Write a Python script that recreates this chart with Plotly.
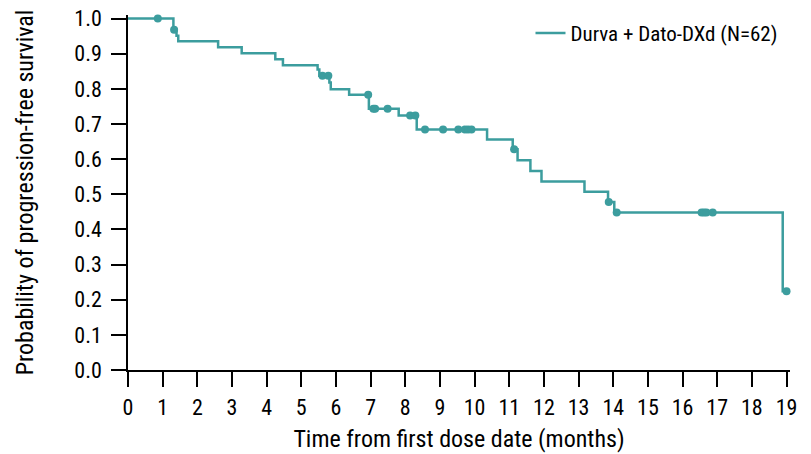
import plotly.graph_objects as go

# Kaplan-Meier step points (time in months, survival probability after step)
step_times = [0, 1.31, 1.40, 1.45, 2.60, 3.28, 4.25, 4.47, 5.47, 5.52, 5.81, 5.85,
              6.38, 6.95, 7.81, 8.33, 10.36, 11.10, 11.24, 11.61, 11.93, 13.17,
              13.85, 14.03, 18.89, 19.0]
step_surv = [1.0, 0.968, 0.951, 0.935, 0.918, 0.901, 0.884, 0.867, 0.855, 0.837, 0.818, 0.799,
             0.783, 0.743, 0.724, 0.684, 0.656, 0.628, 0.597, 0.566, 0.536, 0.507,
             0.478, 0.448, 0.224, 0.224]

# Censored observations
censor_times = [0.86, 1.33, 5.61, 5.78, 6.93, 7.08, 7.13, 7.49, 8.14, 8.29, 8.57, 9.09,
                9.53, 9.72, 9.81, 9.91, 11.14, 13.87, 14.10, 16.55, 16.62, 16.69, 16.87, 19.0]
censor_surv = [1.0, 0.968, 0.837, 0.837, 0.783, 0.743, 0.743, 0.743, 0.724, 0.724, 0.684, 0.684,
               0.684, 0.684, 0.684, 0.684, 0.628, 0.478, 0.448, 0.448, 0.448, 0.448, 0.448, 0.224]

series_name = "Durva + Dato-DXd (N=62)"
x_ticks = list(range(0, 20))
y_ticks = [round(i * 0.1, 1) for i in range(0, 11)]

color = "#3C9D9E"
font_family = "Roboto Condensed, Liberation Sans, Arial, sans-serif"

fig = go.Figure()
fig.add_trace(go.Scatter(
    x=step_times, y=step_surv, mode="lines", line=dict(color=color, width=2.5, shape="hv"),
    name=series_name, showlegend=True))
fig.add_trace(go.Scatter(
    x=censor_times, y=censor_surv, mode="markers", marker=dict(color=color, size=8),
    showlegend=False, cliponaxis=False))

axis_common = dict(showline=True, linecolor="black", linewidth=1.5, ticks="outside",
                   ticklen=15, tickwidth=1.5, tickcolor="black", showgrid=False, zeroline=False,
                   automargin=False, ticklabeloverflow="allow",
                   tickfont=dict(family=font_family, size=22, color="black"),
                   title_font=dict(family=font_family, size=24, color="black"))

fig.update_xaxes(range=[0, 19.1], tickvals=x_ticks, ticktext=[str(v) for v in x_ticks],
                 title_text="Time from first dose date (months)", title_standoff=11,
                 ticklabelstandoff=2, **axis_common)
fig.update_yaxes(range=[0, 1.01], tickvals=y_ticks, ticktext=[f"{v:.1f}" for v in y_ticks],
                 title_text="Probability of progression-free survival", title_standoff=34,
                 ticklabelstandoff=5, **axis_common)

fig.update_layout(
    width=811, height=454,
    margin=dict(l=128, r=21, t=15, b=84, autoexpand=False),
    plot_bgcolor="white", paper_bgcolor="white",
    font=dict(family=font_family, color="black"),
    legend=dict(x=0.608, y=0.948, xanchor="left", yanchor="middle", bgcolor="rgba(0,0,0,0)",
                font=dict(family=font_family, size=21, color="black"), itemwidth=30),
)

fig.write_html("out.html", config={"displayModeBar": False},
               post_script="document.body.style.margin='0';")
